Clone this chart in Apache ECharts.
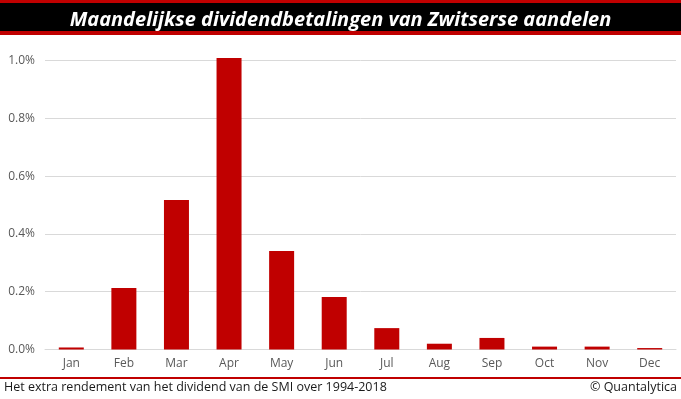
<!DOCTYPE html>
<html><head><meta charset="utf-8">
<script src="https://cdn.jsdelivr.net/npm/echarts@6/dist/echarts.min.js"></script>
<style>html,body{margin:0;padding:0;background:#fff}#c{width:681px;height:399px}</style>
</head><body><div id="c"></div>
<script>
const months = ['Jan','Feb','Mar','Apr','May','Jun','Jul','Aug','Sep','Oct','Nov','Dec'];
const dividendPct = [0.007, 0.213, 0.517, 1.009, 0.341, 0.182, 0.074, 0.020, 0.040, 0.010, 0.010, 0.005];
const yTicks = [0, 0.2, 0.4, 0.6, 0.8, 1.0];
const titleText = 'Maandelijkse dividendbetalingen van Zwitserse aandelen';
const footLeft = 'Het extra rendement van het dividend van de SMI over 1994-2018';
const footRight = '© Quantalytica';

const chart = echarts.init(document.getElementById('c'));
chart.setOption({
  animation: false,
  backgroundColor: '#fff',
  title: {
    text: titleText, left: 'center', top: 5,
    textStyle: {color: '#fff', fontSize: 20, fontWeight: 'bold', fontStyle: 'italic', fontFamily: 'Open Sans'}
  },
  graphic: [
    {type: 'rect', z: -1, shape: {x: 0, y: 0, width: 681, height: 35}, style: {fill: '#c00000'}},
    {type: 'rect', z: -1, shape: {x: 0, y: 3, width: 681, height: 28}, style: {fill: '#000'}},
    {type: 'rect', shape: {x: 0, y: 377, width: 681, height: 2}, style: {fill: '#c00000'}},
    {type: 'text', left: 4, top: 381, style: {text: footLeft, fill: '#1a1a1a', font: '12.5px "Open Sans"'}},
    {type: 'text', right: 4, top: 381, style: {text: footRight, fill: '#1a1a1a', font: '12.5px "Open Sans"'}}
  ],
  grid: {left: 45, right: 5, top: 60.5, bottom: 49.5, containLabel: false},
  xAxis: {
    type: 'category', data: months,
    axisLine: {lineStyle: {color: '#d9d9d9'}},
    axisTick: {show: false},
    axisLabel: {color: '#595959', fontSize: 12, fontFamily: 'Open Sans', margin: 8}
  },
  yAxis: {
    type: 'value', min: yTicks[0], max: yTicks[yTicks.length-1], interval: 0.2,
    axisLine: {show: false}, axisTick: {show: false},
    splitLine: {lineStyle: {color: '#d9d9d9'}},
    axisLabel: {color: '#595959', fontSize: 12, fontFamily: 'Open Sans', margin: 10,
      formatter: v => v.toFixed(1) + '%'}
  },
  series: [{
    type: 'bar', data: dividendPct, barWidth: 25, clip: false,
    itemStyle: {color: '#c00000'}
  }]
});
</script></body></html>
